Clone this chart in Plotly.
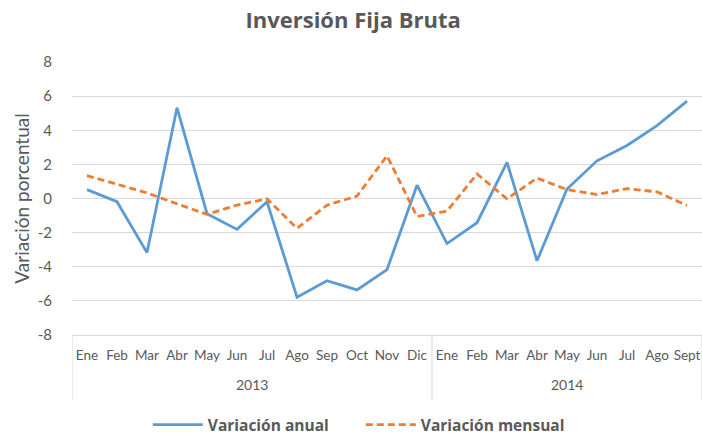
import plotly.graph_objects as go

years = ["2013"] * 12 + ["2014"] * 9
months = ["Ene", "Feb", "Mar", "Abr", "May", "Jun", "Jul", "Ago", "Sep", "Oct", "Nov", "Dic",
          "Ene", "Feb", "Mar", "Abr", "May", "Jun", "Jul", "Ago", "Sept"]
anual = [0.52, -0.19, -3.17, 5.32, -0.89, -1.81, -0.19, -5.79, -4.82, -5.36, -4.17, 0.78,
         -2.64, -1.42, 2.12, -3.65, 0.56, 2.21, 3.11, 4.27, 5.71]
mensual = [1.34, 0.85, 0.33, -0.31, -0.93, -0.39, -0.02, -1.75, -0.39, 0.14, 2.5, -1.05,
           -0.74, 1.44, -0.02, 1.2, 0.52, 0.23, 0.58, 0.39, -0.41]
y_ticks = [-8, -6, -4, -2, 0, 2, 4, 6, 8]

FONT = "Lato"
BOLD_FONT = "Open Sans"
GRAY = "#595959"
GRID = "#d9d9d9"

idx = list(range(len(months)))

fig = go.Figure()
fig.add_trace(go.Scatter(x=idx, y=anual, mode="lines", name="Variación anual",
                         line=dict(color="#5B9BD5", width=2.8)))
fig.add_trace(go.Scatter(x=idx, y=mensual, mode="lines", name="Variación mensual",
                         line=dict(color="#ED7D31", width=2.8, dash="7px,4px")))

# year group labels and dividers, derived from the category list
groups = []
for i, yr in enumerate(years):
    if not groups or groups[-1][0] != yr:
        groups.append([yr, i, i])
    else:
        groups[-1][2] = i
for yr, a, b in groups:
    fig.add_annotation(x=(a + b) / 2, y=-0.183, xref="x", yref="paper", text=yr, showarrow=False,
                       yanchor="middle", font=dict(size=14, color=GRAY, family=FONT))
bounds = [groups[0][1] - 0.5] + [b + 0.5 for _, _, b in groups]
for bx in bounds:
    fig.add_shape(type="line", xref="x", yref="paper", x0=bx, x1=bx, y0=0, y1=-0.238,
                  line=dict(color=GRID, width=1))

fig.update_layout(
    width=702, height=435,
    paper_bgcolor="white", plot_bgcolor="white",
    margin=dict(l=72, r=0, t=62, b=100),
    font=dict(family=FONT, color=GRAY),
    title=dict(text="<b>Inversión Fija Bruta</b>", x=0.503, xanchor="center", xref="container",
               y=0.953, yanchor="middle", yref="container",
               font=dict(size=22, color=GRAY, family=BOLD_FONT)),
    showlegend=True,
    legend=dict(orientation="h", x=0.514, xanchor="center", xref="container",
                y=0.023, yanchor="middle", yref="container",
                font=dict(size=15.5, color=GRAY, family=BOLD_FONT, weight="bold"),
                entrywidth=148, entrywidthmode="pixels", itemwidth=50),
)
fig.update_yaxes(range=[-8, 8], tickvals=y_ticks, ticktext=[str(v) for v in y_ticks],
                 automargin=False,
                 showgrid=True, gridcolor=GRID, gridwidth=1,
                 zeroline=True, zerolinecolor=GRID, zerolinewidth=1,
                 tickfont=dict(size=15, color=GRAY, family=FONT), ticklabelstandoff=19,
                 title=dict(text="Variación porcentual", font=dict(size=19, color=GRAY, family=FONT),
                            standoff=3))
fig.update_xaxes(range=[-0.5, len(months) - 0.5], tickvals=idx, ticktext=months, tickangle=0,
                 automargin=False,
                 showline=True, linecolor=GRID, linewidth=1, showgrid=False, zeroline=False,
                 tickfont=dict(size=13.5, color=GRAY, family=FONT), ticks="", ticklabelstandoff=8)

fig.write_html("out.html", config={"displayModeBar": False},
               post_script="document.body.style.margin='0';")
